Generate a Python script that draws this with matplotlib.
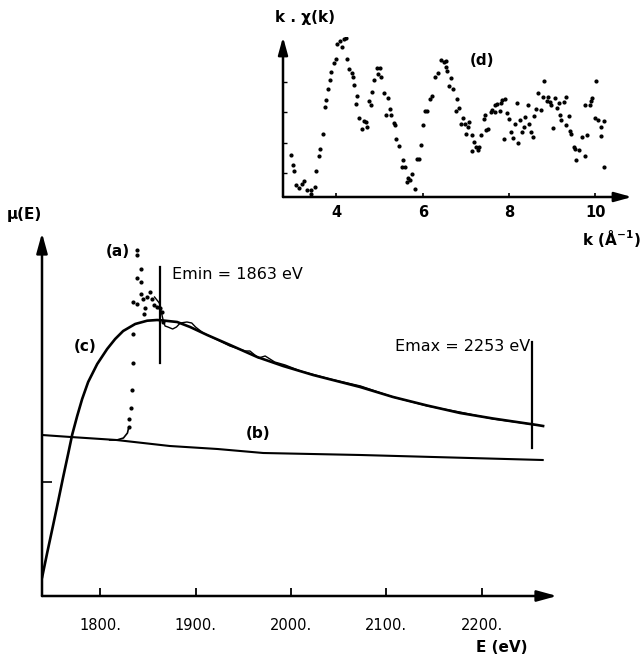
import matplotlib
matplotlib.use("Agg")
import matplotlib.pyplot as plt

plt.rcParams['font.family'] = ['DejaVu Sans']

# ---------------- main panel data (E in eV, mu in arbitrary units) ----------------
c_E = [1739.2, 1744.4, 1750.7, 1756.0, 1761.2, 1766.5, 1770.7, 1775.9, 1781.1, 1787.4,
       1796.9, 1807.3, 1815.7, 1824.1, 1836.7, 1849.3, 1859.7, 1866.0, 1880.7, 1894.3,
       1912.2, 1936.3, 1964.6, 1991.8, 2023.3, 2072.5, 2107.1, 2142.8, 2177.4, 2211.9,
       2258.1, 2264.4]
c_mu = [0.19, 0.43, 0.71, 0.95, 1.19, 1.425, 1.615, 1.80, 1.97, 2.14,
        2.32, 2.47, 2.57, 2.65, 2.72, 2.753, 2.76, 2.755, 2.74, 2.69,
        2.61, 2.51, 2.39, 2.30, 2.21, 2.09, 1.99, 1.905, 1.83, 1.775,
        1.71, 1.70]

b_E = [1739, 1769, 1817, 1873, 1923, 1971, 2073, 2264]
b_mu = [1.61, 1.59, 1.56, 1.50, 1.47, 1.43, 1.41, 1.36]

a_pre_E = [1810, 1817.5, 1824.4, 1828.6, 1830.0]
a_pre_mu = [1.56, 1.56, 1.58, 1.63, 1.69]

a_edge_E = [1830.0, 1830.6, 1832.2, 1833.2, 1834.9, 1834.9, 1834.6, 1838.8, 1838.8, 1838.8,
            1843.0, 1843.0, 1843.0, 1838.8, 1845.1, 1846.1, 1847.2, 1849.3, 1852.4,
            1854.5, 1856.6, 1859.7, 1862.9, 1865.0, 1866.0]
a_edge_mu = [1.69, 1.77, 1.88, 2.06, 2.33, 2.62, 2.94, 3.18, 3.41, 3.46,
             3.27, 3.14, 3.02, 2.92, 2.97, 2.82, 2.88, 2.99, 3.04,
             2.97, 2.91, 2.89, 2.88, 2.84, 2.74]

a_post_E = [1857, 1862, 1866, 1868, 1871, 1876, 1880, 1884, 1891, 1896, 1900, 1908, 1921,
            1936, 1952, 1957, 1966, 1973, 1983, 1994, 2010, 2041, 2073, 2107, 2143, 2177,
            2212, 2258]
a_post_mu = [2.99, 2.93, 2.76, 2.70, 2.69, 2.67, 2.69, 2.73, 2.74, 2.73, 2.69, 2.63, 2.57,
             2.50, 2.45, 2.45, 2.38, 2.40, 2.34, 2.31, 2.25, 2.17, 2.10, 1.99, 1.90, 1.84,
             1.77, 1.71]

E_min = 1863
E_max = 2253
emin_span = [2.33, 3.29]
emax_span = [1.48, 2.54]

E_ticks = [1800, 1900, 2000, 2100, 2200]
E_ticklabels = ["1800.", "1900.", "2000.", "2100.", "2200."]

# ---------------- inset data (k in 1/Angstrom, k*chi in arbitrary units) ----------------
k_vals = [2.95, 2.99, 3.01, 3.07, 3.13, 3.19, 3.24, 3.32, 3.40, 3.42, 3.50, 3.53, 3.59, 3.61,
          3.68, 3.73, 3.75, 3.80, 3.86, 3.88, 3.94, 3.98, 4.02, 4.07, 4.12, 4.17, 4.21, 4.25,
          4.29, 4.35, 4.38, 4.40, 4.48, 4.46, 4.52, 4.58, 4.63, 4.69, 4.71, 4.76, 4.81, 4.83,
          4.88, 4.93, 4.97, 5.00, 5.04, 5.10, 5.15, 5.20, 5.24, 5.27, 5.33, 5.35, 5.39, 5.44,
          5.51, 5.54, 5.58, 5.64, 5.66, 5.71, 5.75, 5.83, 5.87, 5.92, 5.96, 6.01, 6.06, 6.10,
          6.16, 6.22, 6.29, 6.36, 6.43, 6.49, 6.53, 6.55, 6.56, 6.60, 6.66, 6.69, 6.77, 6.80,
          6.83, 6.89, 6.93, 6.97, 7.00, 7.04, 7.07, 7.13, 7.14, 7.18, 7.24, 7.28, 7.31, 7.34,
          7.41, 7.44, 7.47, 7.51, 7.58, 7.61, 7.67, 7.68, 7.72, 7.78, 7.82, 7.84, 7.88, 7.90,
          7.95, 8.01, 8.04, 8.08, 8.13, 8.19, 8.21, 8.26, 8.29, 8.34, 8.38, 8.43, 8.46, 8.51,
          8.55, 8.58, 8.63, 8.66, 8.73, 8.78, 8.82, 8.88, 8.90, 8.96, 8.98, 9.01, 9.06, 9.10,
          9.15, 9.19, 9.21, 9.27, 9.31, 9.33, 9.38, 9.42, 9.44, 9.50, 9.52, 9.56, 9.61, 9.68,
          9.77, 9.81, 9.77, 9.87, 9.91, 9.92, 10.00, 10.02, 10.06, 10.12, 10.14, 10.19, 10.20]
kchi_vals = [0.58, 0.25, 0.07, -0.41, -0.48, -0.35, -0.27, -0.57, -0.68, -0.57, -0.46, 0.05,
             0.56, 0.78, 1.30, 2.18, 2.40, 2.76, 3.05, 3.33, 3.64, 3.75, 4.26, 4.34, 4.15, 4.41,
             4.45, 3.77, 3.44, 3.31, 3.16, 2.91, 2.54, 2.26, 1.81, 1.44, 1.70, 1.68, 1.52, 2.36,
             2.25, 2.67, 3.08, 3.47, 3.27, 3.47, 3.16, 2.64, 1.92, 2.47, 2.10, 1.90, 1.65, 1.59,
             1.11, 0.89, 0.20, 0.44, 0.20, -0.30, -0.16, -0.24, -0.02, -0.54, 0.45, 0.45, 0.91,
             1.57, 2.03, 2.03, 2.45, 2.54, 3.16, 3.30, 3.71, 3.66, 3.49, 3.68, 3.35, 2.86, 3.13,
             2.78, 2.04, 2.45, 2.15, 1.60, 1.82, 1.60, 1.27, 1.52, 1.68, 1.24, 0.71, 1.02, 0.86,
             0.75, 0.86, 1.24, 1.79, 1.92, 1.41, 1.46, 2.01, 2.09, 2.23, 2.01, 2.26, 2.04, 2.29,
             2.40, 1.13, 2.45, 1.98, 1.79, 1.35, 1.16, 1.63, 2.29, 0.99, 1.76, 1.35, 1.52, 1.85,
             2.25, 1.63, 1.35, 1.19, 1.87, 2.12, 2.62, 2.07, 2.51, 3.02, 2.37, 2.51, 2.34, 2.23,
             1.48, 2.48, 2.14, 2.32, 1.90, 1.74, 2.34, 2.51, 1.59, 1.87, 1.37, 1.27, 0.86, 0.80,
             0.44, 0.77, 1.19, 0.56, 1.24, 2.23, 2.25, 2.37, 2.47, 1.82, 3.03, 1.74, 1.21, 1.52,
             1.70, 0.20]
k_ticks = [4, 6, 8, 10]
kchi_ticks = [0, 1, 2, 3]

# ---------------- figure ----------------
W, H = 642, 659
fig = plt.figure(figsize=(W / 100, H / 100), dpi=100)

def axes_px(left, right, top, bottom):
    return fig.add_axes([left / W, 1 - bottom / H, (right - left) / W, (bottom - top) / H])

def draw_arrows(ax, lw=1.6, ms=14):
    for xy in [(1.0, 0.0), (0.0, 1.0)]:
        ax.annotate('', xy=xy, xytext=(0, 0), xycoords='axes fraction',
                    arrowprops=dict(arrowstyle='-|>,head_length=0.8,head_width=0.22',
                                    lw=lw, color='black', shrinkA=0, shrinkB=0,
                                    mutation_scale=ms))

ax = axes_px(42, 557, 233, 596)
ax.set_xlim(1739, 2279)
ax.set_ylim(0, 3.63)
for s in ax.spines.values():
    s.set_visible(False)
draw_arrows(ax, lw=1.8, ms=15)

ax.plot(b_E, b_mu, color='black', lw=1.5)
ax.plot(c_E, c_mu, color='black', lw=1.9)
ax.plot(a_pre_E, a_pre_mu, color='black', lw=1.2)
ax.plot(a_edge_E, a_edge_mu, linestyle='none', marker='o', ms=2.0, color='black')
ax.plot(a_post_E, a_post_mu, color='black', lw=1.0)
ax.plot([E_min, E_min], emin_span, color='black', lw=1.6)
ax.plot([E_max, E_max], emax_span, color='black', lw=1.6)

ax.set_xticks(E_ticks)
ax.set_xticklabels(E_ticklabels)
ax.set_yticks([1.14])
ax.set_yticklabels([])
ax.tick_params(axis='x', direction='in', length=6, width=1.3, pad=16, labelsize=10.5)
ax.tick_params(axis='y', direction='in', length=7, width=1.2)

ax.text(1819, 3.44, "(a)", fontsize=11, fontweight='bold', ha='center', va='center')
ax.text(1784, 2.49, "(c)", fontsize=11, fontweight='bold', ha='center', va='center')
ax.text(1966, 1.63, "(b)", fontsize=11, fontweight='bold', ha='center', va='center')
ax.text(1875, 3.21, "Emin = 1863 eV", fontsize=11.5, ha='left', va='center')
ax.text(2251, 2.49, "Emax = 2253 eV", fontsize=11.5, ha='right', va='center')
ax.text(2221, -0.52, "E (eV)", fontsize=11, fontweight='bold', ha='center', va='center',
        clip_on=False)
ax.text(1720, 3.81, "μ(E)", fontsize=11, fontweight='bold', ha='center', va='center',
        clip_on=False)

# ---------------- inset ----------------
ai = axes_px(283, 632, 37, 197)
ai.set_xlim(2.76, 10.85)
ai.set_ylim(-0.79, 4.48)
for s in ai.spines.values():
    s.set_visible(False)
draw_arrows(ai, lw=1.8, ms=13)
ai.plot(k_vals, kchi_vals, linestyle='none', marker='o', ms=2.0, color='black')
ai.set_xticks(k_ticks)
ai.set_yticks(kchi_ticks)
ai.set_yticklabels([])
ai.tick_params(axis='x', direction='in', length=3, width=1.2, pad=6, labelsize=10.5)
ai.tick_params(axis='y', direction='in', length=3, width=1.0)
for lab in ai.get_xticklabels():
    lab.set_fontweight('bold')
ai.text(3.26, 5.13, "k . χ(k)", fontsize=11, fontweight='bold', ha='center', va='center',
        clip_on=False)
ai.text(7.37, 3.71, "(d)", fontsize=11, fontweight='bold', ha='center', va='center')
ai.text(10.38, -2.16, "k (Å$^{\\mathbf{-1}}$)", fontsize=11, fontweight='bold', ha='center',
        va='center', clip_on=False)

fig.savefig("out.png", dpi=100)
